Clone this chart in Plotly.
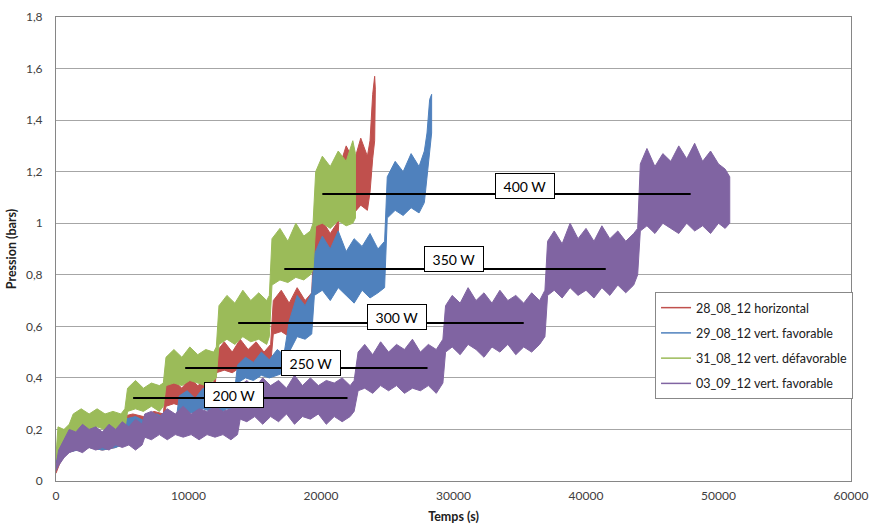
import plotly.graph_objects as go

# ---------------- data ----------------
red_name = "28_08_12 horizontal"
red_t  = [0, 300, 800, 1500, 2500, 3500, 4500, 4800, 5000, 5800, 6600, 7400, 8100, 8300, 8900, 9500, 10100, 10700, 11300, 11900,
          12100, 12700, 13300, 13900, 14500, 15100, 15700, 16200, 16400, 17000, 17600, 18200, 18800, 19300, 19500, 20100, 20700, 21200,
          21400, 21900, 22500, 23000, 23500, 23700, 23900, 24050, 24100]
red_lo = [0.03, 0.07, 0.11, 0.12, 0.13, 0.12, 0.13, 0.14, 0.19, 0.20, 0.19, 0.21, 0.20, 0.29, 0.30, 0.29, 0.31, 0.30, 0.29, 0.31,
          0.42, 0.43, 0.42, 0.44, 0.43, 0.42, 0.44, 0.45, 0.57, 0.58, 0.56, 0.59, 0.57, 0.60, 0.86, 0.87, 0.85, 0.88,
          1.05, 1.06, 1.04, 1.07, 1.05, 1.12, 1.25, 1.32, 1.35]
red_hi = [0.05, 0.11, 0.16, 0.18, 0.19, 0.18, 0.20, 0.21, 0.25, 0.26, 0.25, 0.27, 0.26, 0.37, 0.39, 0.36, 0.40, 0.37, 0.39, 0.38,
          0.50, 0.54, 0.50, 0.55, 0.51, 0.54, 0.50, 0.53, 0.70, 0.74, 0.69, 0.75, 0.70, 0.73, 0.98, 1.01, 0.96, 1.00,
          1.22, 1.30, 1.24, 1.33, 1.26, 1.32, 1.50, 1.57, 1.52]

blue_name = "29_08_12 vert. favorable"
blue_t  = [0, 300, 800, 1500, 2500, 3500, 4500, 5000, 5200, 6000, 6800, 7600, 8400, 9100, 9300, 9900, 10500, 11100, 11700, 12300,
           12900, 13500, 13700, 14300, 14900, 15500, 16100, 16700, 17200, 17600, 18200, 18800, 19300, 19500, 20100, 20700, 21300,
           21900, 22500, 23100, 23700, 24300, 24800, 25000, 25600, 26200, 26800, 27400, 27800, 28000, 28200, 28350]
blue_lo = [0.07, 0.09, 0.11, 0.12, 0.13, 0.12, 0.13, 0.14, 0.18, 0.19, 0.18, 0.20, 0.19, 0.20, 0.26, 0.27, 0.26, 0.28, 0.27, 0.26,
           0.28, 0.27, 0.38, 0.40, 0.39, 0.41, 0.40, 0.41, 0.42, 0.50, 0.56, 0.55, 0.57, 0.72, 0.74, 0.70, 0.75,
           0.72, 0.69, 0.74, 0.71, 0.73, 0.75, 1.02, 1.05, 1.03, 1.06, 1.04, 1.08, 1.18, 1.28, 1.35]
blue_hi = [0.09, 0.13, 0.16, 0.18, 0.18, 0.19, 0.18, 0.20, 0.24, 0.25, 0.23, 0.26, 0.24, 0.25, 0.33, 0.35, 0.32, 0.36, 0.33, 0.35,
           0.34, 0.36, 0.45, 0.48, 0.46, 0.50, 0.47, 0.51, 0.49, 0.62, 0.72, 0.68, 0.73, 0.88, 0.95, 0.90, 0.97,
           0.89, 0.94, 0.91, 0.96, 0.90, 0.93, 1.18, 1.24, 1.20, 1.27, 1.22, 1.28, 1.35, 1.48, 1.50]

green_name = "31_08_12 vert. défavorable"
green_t  = [0, 150, 600, 1000, 1300, 1900, 2500, 3100, 3700, 4300, 4900, 5200, 5400, 6000, 6600, 7200, 7800, 8100, 8300, 8900,
            9500, 10100, 10700, 11300, 11900, 12100, 12300, 12900, 13500, 14100, 14700, 15300, 15900, 16100, 16300, 16900,
            17500, 18100, 18700, 19200, 19400, 19600, 20100, 20700, 21300, 21900, 22400, 22600]
green_lo = [0.08, 0.10, 0.13, 0.15, 0.19, 0.20, 0.19, 0.21, 0.20, 0.19, 0.21, 0.20, 0.27, 0.28, 0.27, 0.29, 0.27, 0.29, 0.37, 0.38,
            0.37, 0.39, 0.38, 0.37, 0.39, 0.40, 0.53, 0.55, 0.53, 0.56, 0.54, 0.55, 0.53, 0.56, 0.76, 0.78,
            0.77, 0.79, 0.78, 0.80, 0.82, 0.99, 1.00, 0.98, 1.01, 0.99, 1.00, 1.02]
green_hi = [0.10, 0.21, 0.20, 0.22, 0.26, 0.28, 0.26, 0.28, 0.26, 0.27, 0.26, 0.28, 0.36, 0.39, 0.36, 0.38, 0.37, 0.38, 0.48, 0.51,
            0.48, 0.52, 0.49, 0.51, 0.50, 0.52, 0.68, 0.72, 0.69, 0.74, 0.70, 0.73, 0.70, 0.72, 0.94, 0.98,
            0.93, 1.00, 0.95, 0.97, 1.00, 1.20, 1.26, 1.22, 1.28, 1.24, 1.32, 1.27]

purple_name = "03_09_12 vert. favorable"
purple_t  = [0, 200, 600, 1000, 1500, 2000, 2500, 3000, 3500, 4000, 4500, 5000, 5500, 6000, 6500, 6700, 7200, 7800, 8400, 9000,
             9600, 10200, 10800, 11400, 12000, 12600, 13200, 13700, 13900, 14400, 15000, 15600, 16200, 16800, 17400, 18000,
             18600, 19200, 19800, 20400, 21000, 21600, 22200, 22500, 22800, 23300, 23900, 24500, 25100, 25700, 26300, 26900,
             27500, 28100, 28700, 29200, 29400, 29900, 30500, 31100, 31700, 32300, 32900, 33500, 34100, 34700, 35300, 35900,
             36500, 36900, 37100, 37600, 38200, 38800, 39400, 40000, 40600, 41200, 41800, 42400, 43000, 43600, 43900, 44100,
             44600, 45200, 45800, 46400, 47000, 47600, 48200, 48800, 49400, 50000, 50500, 50850]
purple_lo = [0.04, 0.06, 0.09, 0.11, 0.12, 0.11, 0.13, 0.12, 0.13, 0.12, 0.14, 0.13, 0.14, 0.12, 0.14, 0.17, 0.16, 0.18, 0.16, 0.18,
             0.17, 0.18, 0.16, 0.18, 0.17, 0.18, 0.16, 0.18, 0.24, 0.23, 0.25, 0.22, 0.25, 0.23, 0.26, 0.22,
             0.25, 0.24, 0.26, 0.22, 0.25, 0.23, 0.25, 0.27, 0.35, 0.36, 0.34, 0.37, 0.35, 0.37, 0.34, 0.36,
             0.35, 0.37, 0.34, 0.38, 0.50, 0.52, 0.49, 0.53, 0.51, 0.48, 0.52, 0.50, 0.53, 0.49, 0.52, 0.50,
             0.53, 0.56, 0.72, 0.74, 0.71, 0.75, 0.72, 0.74, 0.71, 0.75, 0.72, 0.76, 0.73, 0.76, 0.80, 0.97,
             0.99, 0.96, 1.00, 0.98, 0.96, 1.00, 0.97, 0.99, 0.96, 1.00, 0.98, 1.00]
purple_hi = [0.06, 0.12, 0.16, 0.20, 0.19, 0.22, 0.20, 0.21, 0.19, 0.22, 0.20, 0.23, 0.21, 0.24, 0.22, 0.26, 0.27, 0.25, 0.28, 0.26,
             0.29, 0.26, 0.28, 0.27, 0.29, 0.27, 0.28, 0.30, 0.37, 0.39, 0.36, 0.40, 0.37, 0.39, 0.36, 0.41,
             0.37, 0.40, 0.37, 0.39, 0.38, 0.40, 0.37, 0.39, 0.50, 0.53, 0.49, 0.54, 0.50, 0.53, 0.51, 0.55,
             0.50, 0.53, 0.51, 0.55, 0.68, 0.72, 0.69, 0.75, 0.70, 0.73, 0.69, 0.74, 0.70, 0.72, 0.69, 0.73,
             0.70, 0.74, 0.93, 0.97, 0.92, 1.00, 0.94, 0.98, 0.93, 0.99, 0.94, 0.97, 0.93, 0.96, 0.98, 1.23,
             1.29, 1.22, 1.27, 1.24, 1.30, 1.25, 1.31, 1.24, 1.28, 1.23, 1.21, 1.18]

# power reference lines
power_labels = ["200 W", "250 W", "300 W", "350 W", "400 W"]
power_t0 = [5820, 9750, 13750, 17230, 20100]
power_t1 = [22000, 28040, 35300, 41490, 47900]
power_p = [0.322, 0.438, 0.613, 0.822, 1.113]
label_t = [13450, 19270, 25700, 30000, 35400]
label_p = [0.334, 0.456, 0.638, 0.860, 1.144]

x_ticks = [0, 10000, 20000, 30000, 40000, 50000, 60000]
y_ticks = [0, 0.2, 0.4, 0.6, 0.8, 1.0, 1.2, 1.4, 1.6, 1.8]
y_ticktext = ["0", "0,2", "0,4", "0,6", "0,8", "1", "1,2", "1,4", "1,6", "1,8"]

series = [
    (red_name, red_t, red_lo, red_hi, "#C0504D"),
    (blue_name, blue_t, blue_lo, blue_hi, "#4F81BD"),
    (green_name, green_t, green_lo, green_hi, "#9BBB59"),
    (purple_name, purple_t, purple_lo, purple_hi, "#8064A2"),
]

FONT = "Lato"
fig = go.Figure()

for name, t, lo, hi, col in series:
    fig.add_trace(go.Scatter(
        x=list(t) + list(t)[::-1], y=list(hi) + list(lo)[::-1],
        mode="lines", fill="toself", fillcolor=col,
        line=dict(color=col, width=1), showlegend=False, hoverinfo="skip"))

for i in range(len(power_labels)):
    fig.add_trace(go.Scatter(
        x=[power_t0[i], power_t1[i]], y=[power_p[i], power_p[i]],
        mode="lines", line=dict(color="black", width=2), showlegend=False, hoverinfo="skip"))
    fig.add_annotation(x=label_t[i], y=label_p[i], text=power_labels[i], showarrow=False,
                       font=dict(family=FONT, size=14, color="black"),
                       bgcolor="white", bordercolor="black", borderwidth=1,
                       width=56, height=22, borderpad=1)

for k, (name, t, lo, hi, col) in enumerate(series):
    fig.add_trace(go.Scatter(x=[None], y=[None], mode="lines", name=name,
                             line=dict(color=col, width=1.5), legendgroup=f"g{k}"))

fig.update_layout(
    width=869, height=524,
    margin=dict(l=56, r=18, t=17, b=43),
    paper_bgcolor="white", plot_bgcolor="white",
    font=dict(family=FONT, size=12, color="#404040"),
    showlegend=True,
    legend=dict(x=0.7535, y=0.4073, xanchor="left", yanchor="top",
                bgcolor="white", bordercolor="#888888", borderwidth=1,
                font=dict(family=FONT, size=12.5, color="#202020"),
                tracegroupgap=6, itemwidth=30),
    xaxis=dict(range=[0, 60000], tickvals=x_ticks, ticktext=[str(v) for v in x_ticks],
               showgrid=False, zeroline=False, showline=True, linecolor="#868686", linewidth=1,
               mirror=True, ticks="", tickfont=dict(size=12, color="#404040"), automargin=False,
               ticklabelstandoff=4,
               title=dict(text="<b>Temps (s)</b>", font=dict(size=12.5, color="#202020"), standoff=10)),
    yaxis=dict(range=[0, 1.8], tickvals=y_ticks, ticktext=y_ticktext,
               showgrid=True, gridcolor="#A6A6A6", gridwidth=1, zeroline=False,
               showline=True, linecolor="#868686", linewidth=1, mirror=True, ticks="", automargin=False,
               ticklabelstandoff=10, tickfont=dict(size=12, color="#404040"),
               title=dict(text="<b>Pression (bars)</b>", font=dict(size=12.5, color="#202020"), standoff=6)),
)

fig.write_html("out.html", config={"displayModeBar": False},
               post_script="document.body.style.margin='0';")
